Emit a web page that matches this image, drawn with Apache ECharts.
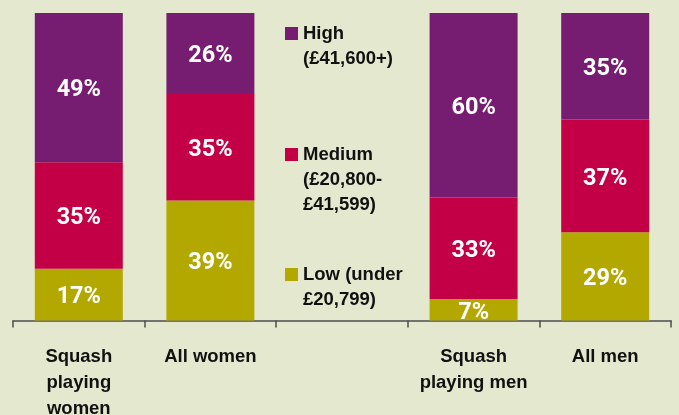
<!DOCTYPE html>
<html>
<head>
<meta charset="utf-8">
<script src="https://cdn.jsdelivr.net/npm/echarts@6/dist/echarts.min.js"></script>
<style>
html,body{margin:0;padding:0;background:#e4e8cf;}
#chart{width:679px;height:415px;}
</style>
</head>
<body>
<div id="chart"></div>
<script>
const categories = ['Squash\nplaying\nwomen', 'All women', '', 'Squash\nplaying men', 'All men'];
const seriesNames = ['Low (under\n£20,799)', 'Medium\n(£20,800-\n£41,599)', 'High\n(£41,600+)'];
const lowValues = [17, 39, null, 7, 29];
const mediumValues = [35, 35, null, 33, 37];
const highValues = [49, 26, null, 60, 35];

const colors = ['#b3a800', '#c30046', '#771d71'];
const raw = [lowValues, mediumValues, highValues];
const totals = categories.map((c, i) => raw.reduce((s, arr) => s + (arr[i] || 0), 0));

const series = raw.map((arr, k) => ({
  name: seriesNames[k],
  type: 'bar',
  stack: 'total',
  barWidth: 88,
  itemStyle: { color: colors[k] },
  label: {
    show: true,
    position: 'inside',
    offset: [0, 3],
    color: '#ffffff',
    fontFamily: 'Roboto',
    fontWeight: 'bold',
    fontSize: 23.5,
    formatter: p => p.data.raw + '%'
  },
  data: arr.map((v, i) => v == null ? '-' : { value: v / totals[i] * 100, raw: v })
}));

const lh = 25;
function legendFor(k, top) {
  const n = seriesNames[k].split('\n').length;
  return {
    data: [seriesNames[k]],
    left: 285,
    top: top,
    padding: 0,
    itemWidth: 13,
    itemHeight: 13,
    itemGap: 0,
    icon: 'rect',
    selectedMode: false,
    formatter: name => '\n'.repeat(n - 1) + name,
    textStyle: {
      fontFamily: 'Liberation Sans',
      fontWeight: 'bold',
      fontSize: 18.5,
      lineHeight: lh,
      color: '#111111'
    }
  };
}

const chart = echarts.init(document.getElementById('chart'));
chart.setOption({
  backgroundColor: '#e4e8cf',
  animation: false,
  legend: [legendFor(2, -4), legendFor(1, 92), legendFor(0, 237)],
  grid: { left: 13, right: 8, top: 13, bottom: 94.5, containLabel: false, outerBoundsMode: 'none' },
  xAxis: {
    type: 'category',
    data: categories,
    axisLine: { lineStyle: { color: '#4d4d4d', width: 1.5 } },
    axisTick: { show: true, length: 7, lineStyle: { color: '#4d4d4d', width: 1.5 } },
    axisLabel: {
      interval: 0,
      margin: 23,
      color: '#111111',
      fontFamily: 'Liberation Sans',
      fontWeight: 'bold',
      fontSize: 18.5,
      lineHeight: 26
    }
  },
  yAxis: { type: 'value', min: 0, max: 100, show: false },
  series: series
});
</script>
</body>
</html>
